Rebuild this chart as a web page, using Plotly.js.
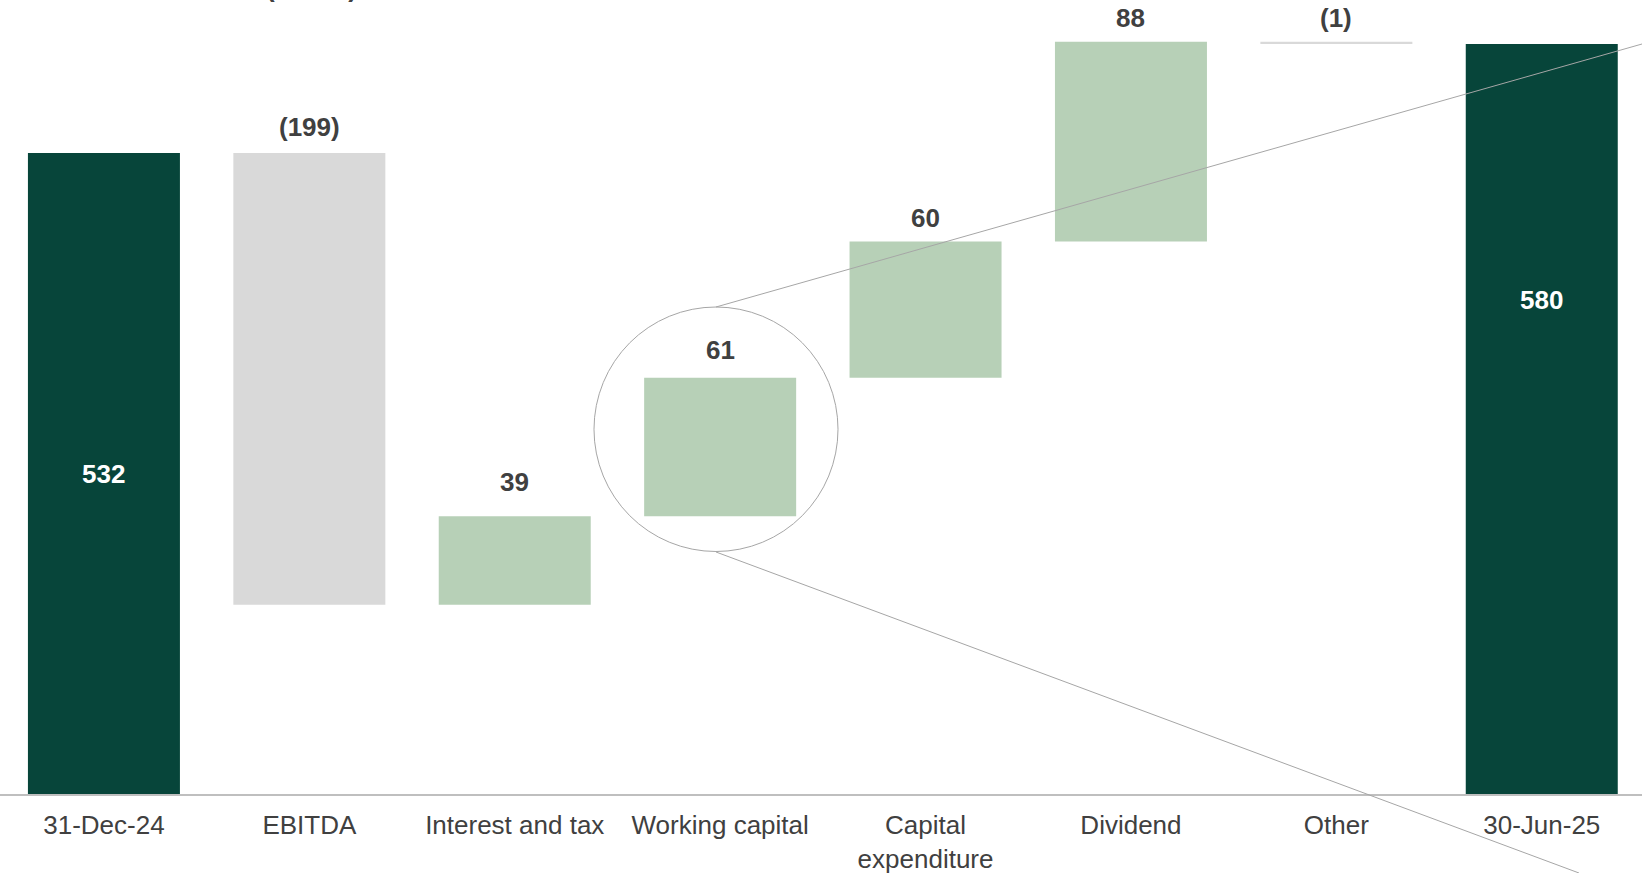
<!DOCTYPE html>
<html>
<head>
<meta charset="utf-8">
<script src="https://cdn.plot.ly/plotly-3.0.1.min.js"></script>
<style>
  html, body { margin: 0; padding: 0; background: #ffffff; }
  #chart { width: 1642px; height: 873px; }
</style>
</head>
<body>
<div id="chart"></div>
<script>
// ---- data ----
const categories = ['31-Dec-24', 'EBITDA', 'Interest and tax', 'Working capital',
                    'Capital<br>expenditure', 'Dividend', 'Other', '30-Jun-25'];
const openingValue = 532;
const movements = [-199, 39, 61, 60, 88, -1];
const closingValue = 580;
const valueLabels = ['532', '(199)', '39', '61', '60', '88', '(1)', '580'];
const unitLabel = '(US$m)';

// ---- style ----
const FONT = 'Liberation Sans, Arial, Helvetica, sans-serif';
const DARK = '#07453A';
const INC = '#B7D0B7';
const DEC = '#D9D9D9';
const TEXT = '#404040';
const PLOT_H = 794;

// build waterfall geometry from the data
const bases = [0];
const heights = [openingValue];
const colors = [DARK];
const tops = [openingValue];
let running = openingValue;
movements.forEach(m => {
  const next = running + m;
  bases.push(Math.min(running, next));
  heights.push(Math.abs(m));
  colors.push(m >= 0 ? INC : DEC);
  tops.push(Math.max(running, next));
  running = next;
});
bases.push(0);
heights.push(closingValue);
colors.push(DARK);
tops.push(closingValue);

const trace = {
  type: 'bar',
  x: categories,
  y: heights,
  base: bases,
  width: 0.74,
  marker: { color: colors, line: { width: 0 } },
  hoverinfo: 'none',
  showlegend: false
};

// label placement (layout only)
const insideFraction = { 0: 0.734, 7: 0.8055 };   // share of total value where white label sits
const labelShift = [0, 9, 17, 11, 7, 7, 7, 0];

const annotations = [];
categories.forEach((c, i) => {
  if (i === 0 || i === categories.length - 1) {
    annotations.push({
      x: c, y: tops[i] * insideFraction[i], xref: 'x', yref: 'y',
      text: valueLabels[i], showarrow: false,
      font: { family: FONT, size: 26, color: '#ffffff', weight: 'bold' }
    });
  } else {
    annotations.push({
      x: c, y: tops[i], xref: 'x', yref: 'y', yanchor: 'bottom',
      yshift: labelShift[i],
      text: valueLabels[i], showarrow: false,
      font: { family: FONT, size: 26, color: TEXT, weight: 'bold' }
    });
  }
});
annotations.push({
  x: 311.5 / 1642, y: 1, xref: 'paper', yref: 'paper',
  xanchor: 'center', yanchor: 'bottom', yshift: -5,
  text: unitLabel, showarrow: false,
  font: { family: FONT, size: 26, color: TEXT, weight: 'bold' }
});

const lineStyle = { color: '#A6A6A6', width: 1 };
const shapes = [
  { type: 'circle', xref: 'paper', yref: 'paper',
    x0: 594 / 1642, x1: 838 / 1642, y0: 1 - 551.5 / PLOT_H, y1: 1 - 307 / PLOT_H,
    line: lineStyle, fillcolor: 'rgba(0,0,0,0)' },
  { type: 'line', xref: 'paper', yref: 'paper',
    x0: 716 / 1642, y0: 1 - 307 / PLOT_H, x1: 1, y1: 1 - 44 / PLOT_H, line: lineStyle },
  { type: 'line', xref: 'paper', yref: 'paper',
    x0: 716 / 1642, y0: 1 - 552 / PLOT_H, x1: 1579 / 1642, y1: 1 - 873 / PLOT_H, line: lineStyle }
];

const layout = {
  width: 1642, height: 873,
  margin: { l: 0, r: 0, t: 0, b: 873 - PLOT_H, pad: 0 },
  paper_bgcolor: '#ffffff', plot_bgcolor: '#ffffff',
  font: { family: FONT, color: TEXT },
  xaxis: {
    type: 'category', range: [-0.506, 7.488],
    showline: true, linecolor: 'rgba(180,180,180,0.85)', linewidth: 2,
    ticks: '', showgrid: false, zeroline: false, automargin: false,
    tickfont: { family: FONT, size: 26, color: TEXT },
    ticklabelstandoff: 7, fixedrange: true
  },
  yaxis: {
    range: [249.6, 599.4], visible: false, showgrid: false, zeroline: false,
    fixedrange: true
  },
  annotations: annotations,
  shapes: shapes,
  bargap: 0.26
};

Plotly.newPlot('chart', [trace], layout, { displayModeBar: false, staticPlot: true });
</script>
</body>
</html>
